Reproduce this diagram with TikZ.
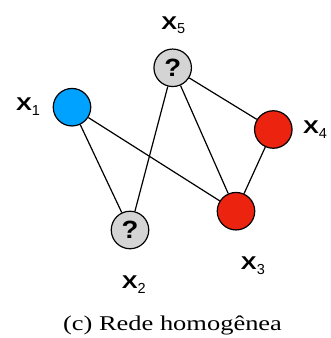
\documentclass[tikz,border=0pt]{standalone}
\usepackage{fontspec}
\setmainfont{Liberation Serif}
\newfontfamily\labfont{Liberation Sans}
\usepackage{graphicx}
\definecolor{nblue}{RGB}{0,162,255}
\definecolor{nred}{RGB}{235,35,15}
\definecolor{ngray}{RGB}{212,212,212}
\newcommand{\xlab}[1]{{\labfont\bfseries\fontsize{18.5}{18.5}\selectfont\scalebox{1.28}[1]{X}}\raisebox{-4.7pt}{\labfont\fontsize{14.5}{14.5}\selectfont #1}}
\newcommand{\qmark}{{\labfont\bfseries\fontsize{25}{25}\selectfont\scalebox{1.1}[1]{?}}}
\tikzset{
  vnode/.style={circle, draw=black, line width=1.2pt, minimum size=37.5pt, inner sep=0pt},
  xlabel/.style={anchor=base, inner sep=0pt},
  edge/.style={draw=black, line width=1.2pt}
}
\begin{document}
\begin{tikzpicture}[x=1pt,y=1pt]
\useasboundingbox (0,0) rectangle (330,338);
\node[vnode, fill=nblue] (x1) at (72,230.8) {};
\node[vnode, fill=ngray] (x5) at (172.7,270.2) {\qmark};
\node[vnode, fill=nred] (x4) at (273.3,208.5) {};
\node[vnode, fill=nred] (x3) at (236,126.8) {};
\node[vnode, fill=ngray] (x2) at (130,108) {\qmark};
\draw[edge] (x1) -- (x2);
\draw[edge] (x1) -- (x3);
\draw[edge] (x5) -- (x2);
\draw[edge] (x5) -- (x3);
\draw[edge] (x5) -- (x4);
\draw[edge] (x4) -- (x3);
\node[xlabel] (l5) at (173.3,308.7) {\xlab{5}};
\node[xlabel] (l1) at (28,227.3) {\xlab{1}};
\node[xlabel] (l4) at (315,204) {\xlab{4}};
\node[xlabel] (l3) at (252.9,68.7) {\xlab{3}};
\node[xlabel] (l2) at (133.7,49.7) {\xlab{2}};
\node[xlabel] (cap) at (172.5,8) {\fontsize{21}{21}\selectfont\scalebox{1.26}[1]{(c) Rede homogênea}};
\end{tikzpicture}
\end{document}
